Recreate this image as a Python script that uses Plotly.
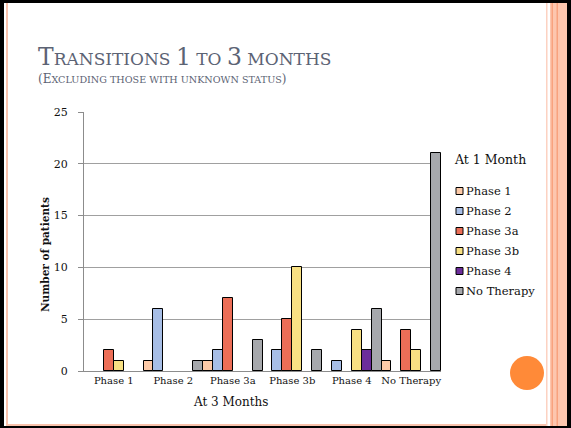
import plotly.graph_objects as go

# ---------------- data ----------------
categories = ["Phase 1", "Phase 2", "Phase 3a", "Phase 3b", "Phase 4", "No Therapy"]
series_names = ["Phase 1", "Phase 2", "Phase 3a", "Phase 3b", "Phase 4", "No Therapy"]
phase1 = [0, 1, 1, 0, 0, 1]
phase2 = [0, 6, 2, 2, 1, 0]
phase3a = [2, 0, 7, 5, 0, 4]
phase3b = [1, 0, 0, 10, 4, 2]
phase4 = [0, 0, 0, 0, 2, 0]
no_therapy = [0, 1, 3, 2, 6, 21]
y_ticks = [0, 5, 10, 15, 20, 25]

series_values = [phase1, phase2, phase3a, phase3b, phase4, no_therapy]
colors = ["#FDCAA8", "#A7BEE6", "#EC6E57", "#F8E083", "#6C2D9B", "#A6A8AC"]

W, H = 571, 428
L, R, T, B = 84, 441, 112, 371  # plot area in pixels

FONT = "DejaVu Serif"

def px(x):
    return (x - L) / (R - L)

def py(y):
    return (B - y) / (B - T)

fig = go.Figure()
for name, vals, col in zip(series_names, series_values, colors):
    fig.add_trace(go.Bar(
        x=categories,
        y=[v if v else None for v in vals],
        name=name,
        marker=dict(color=col, line=dict(color="black", width=1)),
        showlegend=False,
    ))

shapes = []
def rect(x0, y0, x1, y1, color, layer="above"):
    shapes.append(dict(type="rect", xref="paper", yref="paper",
                       x0=px(x0), x1=px(x1), y0=py(y1), y1=py(y0),
                       fillcolor=color, line=dict(width=0), layer=layer))

# slide frame
rect(0, 0, W, 3, "black")
rect(0, 0, 4, H, "black")
rect(0, 426, W, H, "black")
rect(567, 0, W, H, "black")
rect(6, 3, 8, 426, "#F9C2AC")
rect(8, 424, 546, 426, "#F9C2AC")
# right stripes
rect(546, 3, 547.5, 426, "#FCD2C2")
rect(550, 3, 567, 426, "#FDC6AE")
rect(551.5, 3, 553, 426, "#F8A27E")
rect(556.5, 3, 558, 426, "#F8A27E")
# orange circle
shapes.append(dict(type="circle", xref="paper", yref="paper",
                   x0=px(527 - 17), x1=px(527 + 17), y0=py(373 + 17), y1=py(373 - 17),
                   fillcolor="#FF8A38", line=dict(width=0)))

annotations = []
title_col = "#5C6374"
annotations.append(dict(
    xref="paper", yref="paper", x=px(36), y=py(57), xanchor="left", yanchor="middle",
    showarrow=False,
    text=('<span style="font-size:23.5px">T</span>RANSITIONS '
          '<span style="font-size:23.5px">1</span> TO '
          '<span style="font-size:23.5px">3</span> MONTHS'),
    font=dict(family=FONT, size=17, color=title_col)))
annotations.append(dict(
    xref="paper", yref="paper", x=px(36), y=py(79), xanchor="left", yanchor="middle",
    showarrow=False,
    text=('<span style="font-size:12px">(E</span>XCLUDING THOSE WITH UNKNOWN STATUS'
          '<span style="font-size:12px">)</span>'),
    font=dict(family=FONT, size=9.6, color=title_col)))

# axis titles
annotations.append(dict(
    xref="paper", yref="paper", x=px(231), y=py(402), xanchor="center", yanchor="middle",
    showarrow=False, text="At 3 Months", font=dict(family=FONT, size=12, color="#111")))
annotations.append(dict(
    xref="paper", yref="paper", x=px(45), y=py(255), xanchor="center", yanchor="middle",
    showarrow=False, textangle=-90, text="<b>Number of patients</b>",
    font=dict(family=FONT, size=10.5, color="#111")))

# legend (drawn manually)
annotations.append(dict(
    xref="paper", yref="paper", x=px(452), y=py(159), xanchor="left", yanchor="middle",
    showarrow=False, text="At 1 Month", font=dict(family=FONT, size=12.5, color="#111")))
leg_y0, leg_step = 191, 20
for i, (name, col) in enumerate(zip(series_names, colors)):
    yc = leg_y0 + i * leg_step
    shapes.append(dict(type="rect", xref="paper", yref="paper",
                       x0=px(456), x1=px(463), y0=py(yc + 3.5), y1=py(yc - 3.5),
                       fillcolor=col, line=dict(color="black", width=1)))
    annotations.append(dict(
        xref="paper", yref="paper", x=px(464), y=py(yc), xanchor="left", yanchor="middle",
        showarrow=False, text=name, font=dict(family=FONT, size=11.5, color="#111")))

fig.update_layout(
    width=W, height=H,
    margin=dict(l=L, r=W - R, t=T, b=H - B, pad=0),
    paper_bgcolor="white", plot_bgcolor="white",
    barmode="group", bargap=0, bargroupgap=0,
    showlegend=False,
    shapes=shapes, annotations=annotations,
    font=dict(family=FONT, color="#111"),
)
fig.update_xaxes(
    showline=True, linecolor="#8C8C8C", linewidth=1, ticks="",
    tickfont=dict(family=FONT, size=10, color="#111"), showgrid=False,
    range=[-0.5, 5.5],
)
fig.update_yaxes(
    range=[0, 25], tickvals=y_ticks, showgrid=True, gridcolor="#A0A0A0", gridwidth=1,
    showline=True, linecolor="#8C8C8C", linewidth=1, ticks="outside", ticklen=5,
    tickcolor="#8C8C8C", tickfont=dict(family=FONT, size=11, color="#111"),
    zeroline=False, ticklabelstandoff=8,
)

fig.write_html("out.html", config={"displayModeBar": False},
               post_script="document.body.style.margin='0';")
